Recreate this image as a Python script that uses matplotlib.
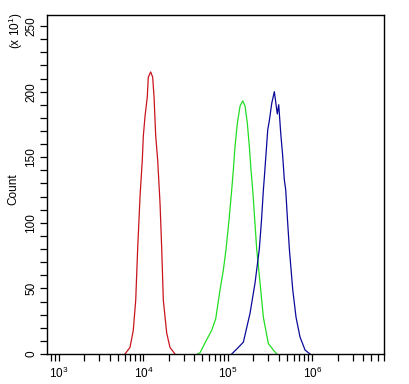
import matplotlib
matplotlib.use("Agg")
import matplotlib.pyplot as plt
from matplotlib.ticker import LogLocator, MultipleLocator, LogFormatterSciNotation
import numpy as np

plt.rcParams["font.family"] = ["Liberation Sans", "DejaVu Sans"]

# log10 of fluorescence intensity, and counts (x 10^1)
red_log = [3.782, 3.841, 3.880, 3.909, 3.932, 3.960, 3.987, 3.999, 4.019, 4.046, 4.058,
           4.086, 4.110, 4.126, 4.146, 4.169, 4.197, 4.217, 4.236, 4.276, 4.315, 4.374]
red_count = [0, 5, 18, 41, 80, 120, 148, 166, 181, 196, 211,
             215, 211, 196, 166, 148, 115, 80, 41, 16, 5, 0]

green_log = [4.640, 4.671, 4.750, 4.809, 4.857, 4.908, 4.947, 4.979, 5.014, 5.046, 5.065,
             5.085, 5.113, 5.145, 5.177, 5.204, 5.231, 5.255, 5.275, 5.295, 5.319,
             5.342, 5.382, 5.421, 5.480, 5.539, 5.579]
green_count = [0, 1, 11, 18, 27, 49, 64, 80, 102, 125, 140,
               158, 176, 189, 193, 189, 176, 158, 140, 125, 102,
               80, 54, 28, 8, 3, 0]

blue_log = [5.046, 5.124, 5.184, 5.263, 5.322, 5.373, 5.399, 5.421, 5.433, 5.453, 5.473,
            5.492, 5.520, 5.551, 5.586, 5.603, 5.627, 5.650, 5.669, 5.686, 5.707,
            5.729, 5.769, 5.808, 5.855, 5.915, 5.974]
blue_count = [0, 5, 9, 31, 54, 80, 102, 125, 135, 153, 171,
              178, 191, 200, 183, 190, 168, 151, 133, 125, 102,
              80, 49, 28, 13, 3, 0]

fig = plt.figure(figsize=(4.1, 3.84), dpi=100)
ax = fig.add_axes([0.1146, 0.0781, 0.822, 0.8828])

for xs, ys, color in [(red_log, red_count, "#c8141c"),
                      (green_log, green_count, "#22dd22"),
                      (blue_log, blue_count, "#0a0a9a")]:
    ax.plot(10 ** np.array(xs), ys, color=color, lw=0.9)

ax.set_xscale("log")
ax.set_xlim(10 ** 2.858, 10 ** 6.85)
ax.set_ylim(0, 258.4)
ax.xaxis.set_major_locator(LogLocator(base=10, numticks=10))
ax.xaxis.set_minor_locator(LogLocator(base=10, subs=np.arange(2, 10), numticks=20))
ax.xaxis.set_major_formatter(LogFormatterSciNotation())
ax.yaxis.set_major_locator(MultipleLocator(50))
ax.yaxis.set_minor_locator(MultipleLocator(10))
ax.tick_params(which="both", direction="out", length=5, width=0.9, labelsize=8.5)
ax.tick_params(axis="y", pad=2)
for lab in ax.get_yticklabels():
    lab.set_rotation(90)
    lab.set_va("center")
for s in ax.spines.values():
    s.set_linewidth(1.0)

ax.set_ylabel("Count", fontsize=8.5)
ax.yaxis.set_label_coords(-0.083, 0.487)
fig.text(0.039, 0.92, r"(x 10$^{\mathdefault{1}}$)", rotation=90, fontsize=8.5,
         ha="center", va="center")

fig.savefig("out.png", dpi=100)
